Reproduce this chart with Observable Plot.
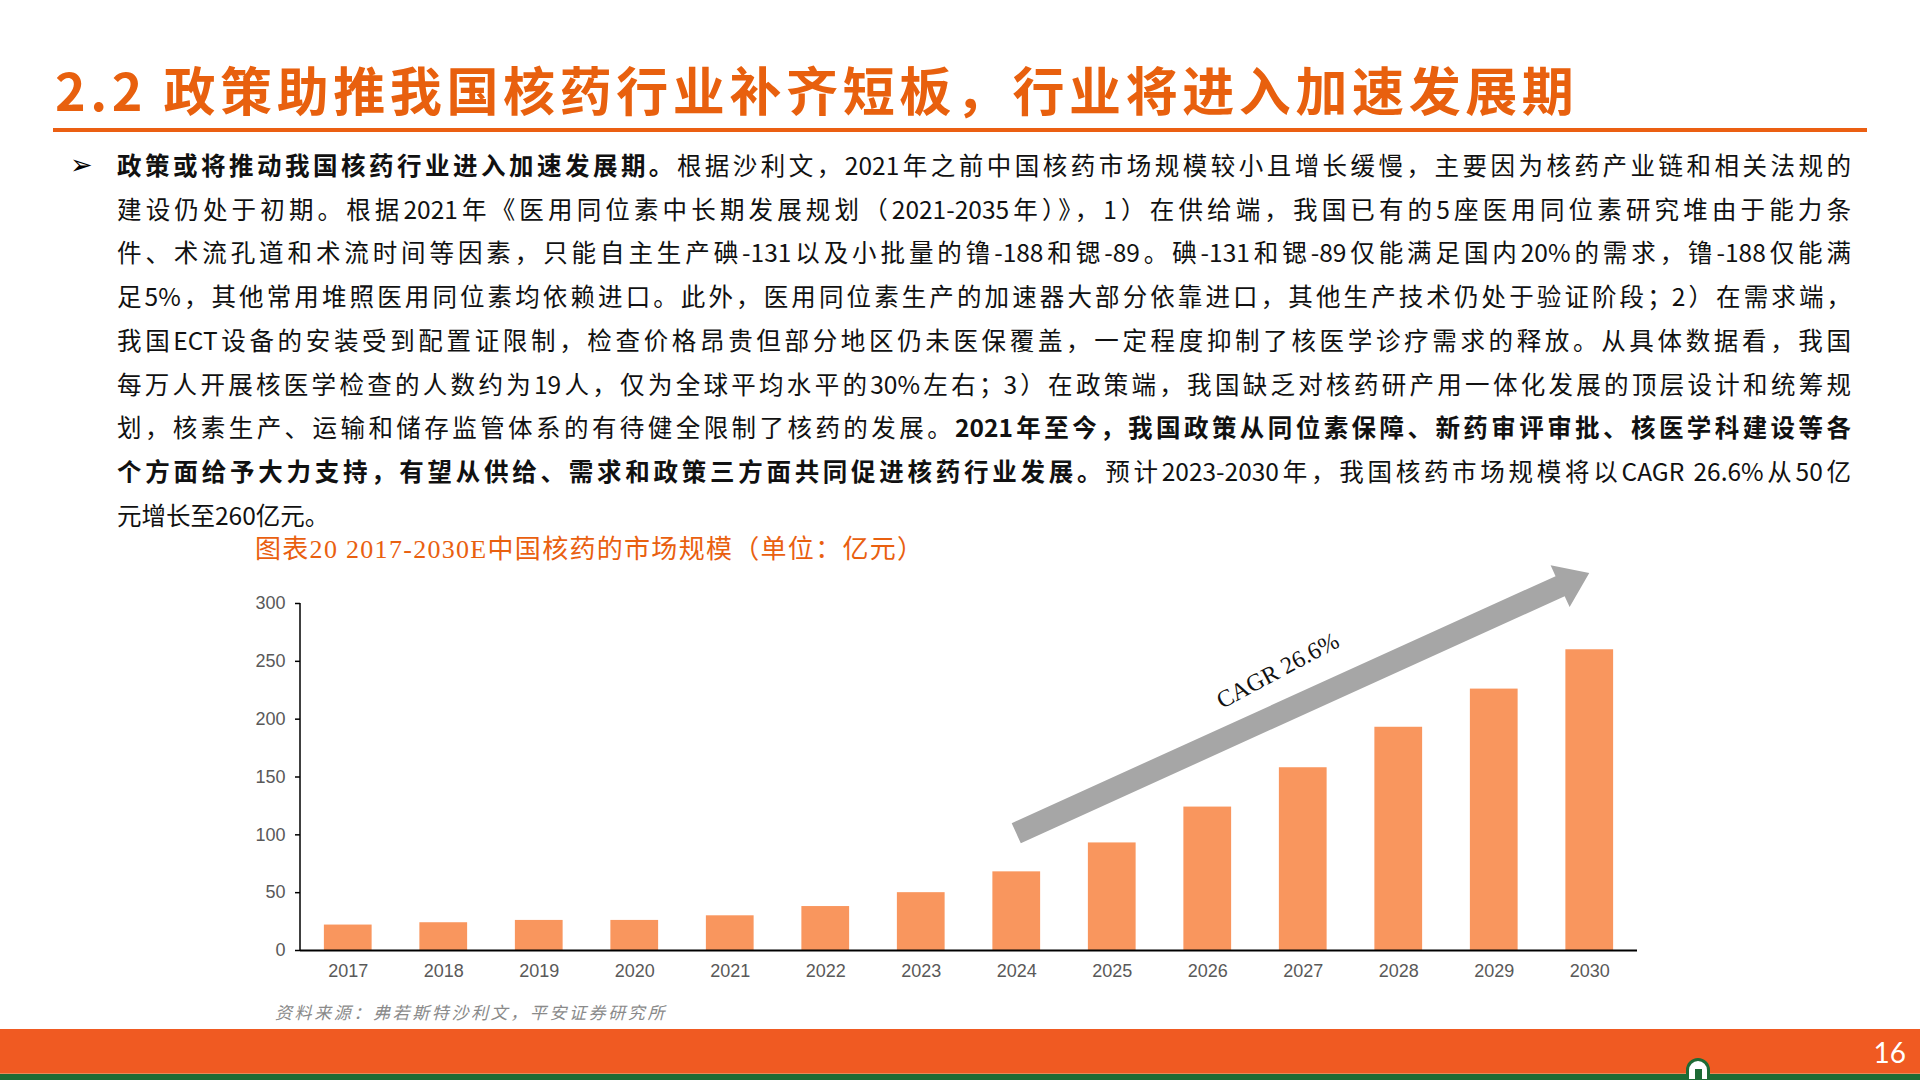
<!DOCTYPE html>
<html>
<head>
<meta charset="utf-8">
<script src="https://cdn.jsdelivr.net/npm/d3@7"></script>
<script src="https://cdn.jsdelivr.net/npm/@observablehq/plot@0.6"></script>
<style>
  html, body { margin: 0; padding: 0; background: #fff; }
  body { width: 1920px; height: 1080px; position: relative; overflow: hidden; font-family: "Noto Sans CJK SC", sans-serif; }
  .abs { position: absolute; }
  #title { left: 55px; top: 61px; font-size: 52px; line-height: 56px; font-weight: bold; color: #E8600E; letter-spacing: 4.6px; white-space: nowrap; }
  #rule { left: 53px; top: 128px; width: 1814px; height: 4px; background: #EB5F12; }
  #bullet { left: 70px; top: 149px; font-family: "DejaVu Sans", sans-serif; font-size: 27px; line-height: 32px; color: #000; }
  #body { left: 117px; top: 143px; width: 1734px; font-family: "Liberation Sans Narrow", "Noto Sans CJK SC", sans-serif; font-size: 24.5px; line-height: 43.7px; color: #111; }
  #body div { text-align: justify; text-align-last: justify; white-space: nowrap; }
  #body div.last { text-align-last: left; }
  #body b { font-family: "Noto Sans CJK SC", sans-serif; font-weight: bold; }
  #chartTitle { left: 255px; top: 535px; font-family: "Liberation Serif", "Noto Sans CJK SC", serif; font-size: 26px; line-height: 30px; color: #E9600F; letter-spacing: 1.3px; white-space: nowrap; }
  #chart { left: 200px; top: 520px; }
  #source { left: 275px; top: 1000px; font-size: 17px; line-height: 24px; color: #8a8a8a; font-style: italic; letter-spacing: 2.6px; white-space: nowrap; }
  #footer { left: 0; top: 1029px; width: 1920px; height: 44px; background: #F05A22; }
  #footerLine { left: 0; top: 1073px; width: 1920px; height: 7px; background: #1E6B35; border-top: 1px solid #e98a5a; }
  #page { right: 14px; top: 1036px; font-family: "Lato", "Open Sans", sans-serif; font-size: 28px; line-height: 32px; color: #fff; }
  #logo { left: 1686px; top: 1058px; width: 24px; height: 24px; background: #fff; border: 3px solid #1E6B35; border-radius: 14px 14px 0 0; box-sizing: border-box; }
  #logo span { position: absolute; left: 6px; top: 8px; width: 7px; height: 12px; background: #1E6B35; }
</style>
</head>
<body>
<div id="title" class="abs">2.2 政策助推我国核药行业补齐短板，行业将进入加速发展期</div>
<div id="rule" class="abs"></div>
<div id="bullet" class="abs">➢</div>
<div id="body" class="abs">
  <div><b>政策或将推动我国核药行业进入加速发展期。</b>根据沙利文，2021年之前中国核药市场规模较小且增长缓慢，主要因为核药产业链和相关法规的</div>
  <div>建设仍处于初期。根据2021年《医用同位素中长期发展规划（2021-2035年）》，1）在供给端，我国已有的5座医用同位素研究堆由于能力条</div>
  <div>件、术流孔道和术流时间等因素，只能自主生产碘-131以及小批量的镥-188和锶-89。碘-131和锶-89仅能满足国内20%的需求，镥-188仅能满</div>
  <div>足5%，其他常用堆照医用同位素均依赖进口。此外，医用同位素生产的加速器大部分依靠进口，其他生产技术仍处于验证阶段；2）在需求端，</div>
  <div>我国ECT设备的安装受到配置证限制，检查价格昂贵但部分地区仍未医保覆盖，一定程度抑制了核医学诊疗需求的释放。从具体数据看，我国</div>
  <div>每万人开展核医学检查的人数约为19人，仅为全球平均水平的30%左右；3）在政策端，我国缺乏对核药研产用一体化发展的顶层设计和统筹规</div>
  <div>划，核素生产、运输和储存监管体系的有待健全限制了核药的发展。<b>2021年至今，我国政策从同位素保障、新药审评审批、核医学科建设等各</b></div>
  <div><b>个方面给予大力支持，有望从供给、需求和政策三方面共同促进核药行业发展。</b>预计2023-2030年，我国核药市场规模将以CAGR 26.6%从50亿</div>
  <div class="last">元增长至260亿元。</div>
</div>
<div id="chartTitle" class="abs">图表20 2017-2030E中国核药的市场规模（单位：亿元）</div>
<div id="chart" class="abs"></div>
<div id="source" class="abs">资料来源：弗若斯特沙利文，平安证券研究所</div>
<div id="footer" class="abs"></div>
<div id="footerLine" class="abs"></div>
<div id="logo" class="abs"><span></span></div>
<div id="page" class="abs">16</div>

<script>
// ---- data ----
const years = ["2017","2018","2019","2020","2021","2022","2023","2024","2025","2026","2027","2028","2029","2030"];
const marketSize = [22, 24, 26, 26, 30, 38, 50, 68, 93, 124, 158, 193, 226, 260];
const yTicks = [0, 50, 100, 150, 200, 250, 300];
const arrowStart = {year: "2024", value: 101};
const arrowEnd = {year: "2030", value: 326};
const cagrLabel = [{year: "2026", value: 242, text: "CAGR 26.6%"}];

const data = years.map((year, i) => ({year, value: marketSize[i]}));

// y-axis line drawn from the y scale
function yAxisLine(index, scales, values, dims) {
  const g = d3.create("svg:g");
  const x = dims.marginLeft;
  g.append("line")
    .attr("x1", x).attr("x2", x)
    .attr("y1", scales.y(yTicks[0])).attr("y2", scales.y(yTicks[yTicks.length - 1]))
    .attr("stroke", "#000").attr("stroke-width", 1.5);
  return g.node();
}

// thick block arrow positioned in data coordinates
function blockArrow(index, scales) {
  const bw = scales.x.bandwidth ? scales.x.bandwidth() : 0;
  const x1 = scales.x(arrowStart.year) + bw / 2, y1 = scales.y(arrowStart.value);
  const x2 = scales.x(arrowEnd.year) + bw / 2, y2 = scales.y(arrowEnd.value);
  const dx = x2 - x1, dy = y2 - y1, len = Math.hypot(dx, dy);
  const ux = dx / len, uy = dy / len, nx = -uy, ny = ux;
  const sw = 11, hw = 23, hl = 32;
  const bx = x2 - ux * hl, by = y2 - uy * hl;
  const pts = [
    [x1 + nx * sw, y1 + ny * sw],
    [bx + nx * sw, by + ny * sw],
    [bx + nx * hw, by + ny * hw],
    [x2, y2],
    [bx - nx * hw, by - ny * hw],
    [bx - nx * sw, by - ny * sw],
    [x1 - nx * sw, y1 - ny * sw]
  ];
  const g = d3.create("svg:g");
  g.append("polygon")
    .attr("points", pts.map(p => p.join(",")).join(" "))
    .attr("fill", "#A6A6A6");
  return g.node();
}

const chart = Plot.plot({
  width: 1477,
  height: 470,
  marginLeft: 100,
  marginRight: 40,
  marginTop: 83,
  marginBottom: 40,
  style: {fontFamily: "Liberation Sans, Arial, sans-serif", fontSize: "18px", overflow: "visible", background: "transparent"},
  x: {domain: years, paddingInner: 0.5, paddingOuter: 0.25, round: false, label: null},
  y: {domain: [0, 300], label: null},
  marks: [
    Plot.barY(data, {x: "year", y: "value", fill: "#F9965E"}),
    blockArrow,
    Plot.text(cagrLabel, {x: "year", y: "value", text: "text", rotate: -28, dx: 70, fontFamily: "Liberation Serif, Times New Roman, serif", fontSize: 24, fill: "#111"}),
    Plot.axisY({ticks: yTicks, tickSize: 5, tickPadding: 10, stroke: "#000", strokeWidth: 1.5, fill: "#595959", fontSize: 18, label: null}),
    Plot.axisX({tickSize: 0, tickPadding: 14, fill: "#595959", fontSize: 18, label: null}),
    yAxisLine,
    Plot.ruleY([0], {stroke: "#000", strokeWidth: 2})
  ]
});
document.getElementById("chart").appendChild(chart);
</script>
</body>
</html>
